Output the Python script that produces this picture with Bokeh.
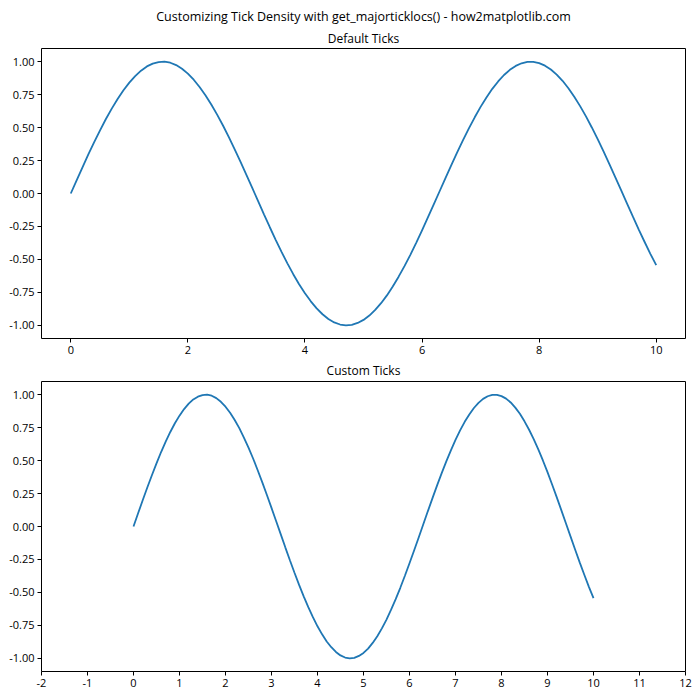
from bokeh.plotting import figure
from bokeh.layouts import column
from bokeh.models import Title, FixedTicker, Range1d, CustomJSTickFormatter
from bokeh.embed import file_html
from bokeh.resources import INLINE

x_vals = [round(0.1 * i, 1) for i in range(101)]
y_vals = [0.000, 0.100, 0.199, 0.296, 0.389, 0.479, 0.565, 0.644, 0.717, 0.783,
          0.841, 0.891, 0.932, 0.964, 0.985, 0.997, 1.000, 0.992, 0.974, 0.946,
          0.909, 0.863, 0.808, 0.746, 0.675, 0.598, 0.516, 0.427, 0.335, 0.239,
          0.141, 0.042, -0.058, -0.158, -0.256, -0.351, -0.443, -0.530, -0.612, -0.688,
          -0.757, -0.818, -0.872, -0.916, -0.952, -0.978, -0.994, -1.000, -0.996, -0.982,
          -0.959, -0.926, -0.883, -0.832, -0.773, -0.706, -0.631, -0.551, -0.465, -0.374,
          -0.279, -0.182, -0.083, 0.017, 0.117, 0.215, 0.312, 0.405, 0.494, 0.578,
          0.657, 0.729, 0.794, 0.850, 0.899, 0.938, 0.968, 0.988, 0.999, 0.999,
          0.989, 0.970, 0.941, 0.902, 0.855, 0.798, 0.734, 0.663, 0.585, 0.501,
          0.412, 0.319, 0.223, 0.124, 0.025, -0.075, -0.174, -0.272, -0.366, -0.458,
          -0.544]

suptitle = "Customizing Tick Density with get_majorticklocs() - how2matplotlib.com"
top_title = "Default Ticks"
bottom_title = "Custom Ticks"
top_xticks = [0, 2, 4, 6, 8, 10]
bottom_xticks = [-2, -1, 0, 1, 2, 3, 4, 5, 6, 7, 8, 9, 10, 11, 12]
yticks = [-1.0, -0.75, -0.5, -0.25, 0.0, 0.25, 0.5, 0.75, 1.0]

FONT = "Open Sans"
LINE_COLOR = "#1f77b4"


def style(p):
    p.outline_line_color = "black"
    p.outline_line_width = 1
    p.xgrid.visible = False
    p.ygrid.visible = False
    for ax in (p.xaxis[0], p.yaxis[0]):
        ax.axis_line_color = None
        ax.major_tick_line_color = "black"
        ax.major_tick_out = 4
        ax.major_tick_in = 0
        ax.minor_tick_line_color = None
        ax.major_label_text_font = FONT
        ax.major_label_text_font_size = "11px"
        ax.major_label_text_color = "black"
        ax.major_label_standoff = 3
    p.yaxis[0].ticker = FixedTicker(ticks=yticks)
    p.yaxis[0].formatter = CustomJSTickFormatter(code="return tick.toFixed(2);")
    p.xaxis[0].formatter = CustomJSTickFormatter(code="return tick.toFixed(0);")


def make_title(text, size, standoff=3):
    return Title(text=text, align="center", text_font=FONT,
                 text_font_size=size, text_font_style="normal",
                 text_color="black", standoff=standoff)


# top plot
p1 = figure(frame_width=644, frame_height=290,
            min_border_left=41, min_border_right=15, min_border_top=48,
            min_border_bottom=10,
            x_range=Range1d(-0.5, 10.5), y_range=Range1d(-1.1, 1.1),
            output_backend="svg", toolbar_location=None)
p1.title.visible = False
p1.add_layout(make_title(top_title, "12px"), "above")
p1.add_layout(make_title(suptitle, "12.5px"), "above")
p1.line(x_vals, y_vals, line_color=LINE_COLOR, line_width=1.8)
style(p1)
p1.xaxis[0].ticker = FixedTicker(ticks=top_xticks)

# bottom plot
p2 = figure(frame_width=644, frame_height=290,
            min_border_left=41, min_border_right=15, min_border_top=10,
            min_border_bottom=10,
            x_range=Range1d(-2, 12), y_range=Range1d(-1.1, 1.1),
            output_backend="svg", toolbar_location=None)
p2.title.visible = False
p2.add_layout(make_title(bottom_title, "12px", standoff=6), "above")
p2.line(x_vals, y_vals, line_color=LINE_COLOR, line_width=1.8)
style(p2)
p2.xaxis[0].ticker = FixedTicker(ticks=bottom_xticks)

layout = column(p1, p2, spacing=0)
open("out.html", "w").write(file_html(layout, INLINE))
